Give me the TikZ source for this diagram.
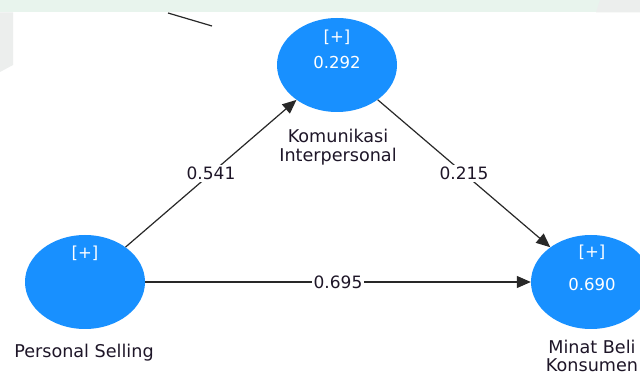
\documentclass[tikz,border=0pt]{standalone}
\usepackage{fontspec}
\setmainfont{DejaVu Sans}
\usetikzlibrary{shapes.geometric,arrows.meta}
\definecolor{lvblue}{RGB}{24,144,255}
\definecolor{stripgreen}{RGB}{232,244,237}
\definecolor{edgegray}{RGB}{236,238,237}
\definecolor{inktext}{RGB}{30,22,40}
\definecolor{linegray}{RGB}{40,40,40}
\tikzset{
  latent/.style={ellipse, fill=lvblue, draw=none, minimum width=120pt, minimum height=94pt, inner sep=0pt},
  intext/.style={text=white, font=\fontsize{16.5}{18}\selectfont, inner sep=0pt},
  lbl/.style={text=inktext, font=\fontsize{17.6}{18.5}\selectfont, align=center, inner sep=0pt},
  conn/.style={draw=linegray, line width=1.2pt, -{Triangle[length=14pt,width=12pt]}},
  coef/.style={fill=white, text=inktext, font=\fontsize{17}{18}\selectfont, inner sep=2pt},
}
\begin{document}
\begin{tikzpicture}[x=1pt,y=-1pt]
\useasboundingbox (0,0) rectangle (640,379);
\clip (0,0) rectangle (640,379);
\fill[white] (0,0) rectangle (640,379);
% header strip and left margin
\fill[stripgreen] (0,0) rectangle (640,12.5);
\fill[edgegray] (0,12.5) -- (13,12.5) -- (13,65) -- (0,72) -- cycle;
\fill[edgegray] (600,0) -- (640,0) -- (640,12.5) -- (596,12.5) -- cycle;
% stray connector entering from above
\coordinate (s1) at (168,13);
\coordinate (s2) at (212,26);
\draw[linegray, line width=1.2pt] (s1) -- (s2);
% latent variables
\node[latent] (ki) at (337,65) {};
\node[latent] (ps) at (85,282) {};
\node[latent] (mbk) at (591,282) {};
\node[intext] (kip) at (337,37) {[+]};
\node[intext] (kiv) at (337,62) {0.292};
\node[intext] (psp) at (85,253) {[+]};
\node[intext] (mbkp) at (592,252) {[+]};
\node[intext] (mbkv) at (592,284) {0.690};
% variable names
\node[lbl] (kil) at (338,147) {Komunikasi\\Interpersonal};
\node[lbl] (psl) at (84,353) {Personal Selling};
\node[lbl] (mbkl) at (592,356) {Minat Beli\\Konsumen};
% paths
\draw[conn] (ps) -- node[coef] (c1) {0.541} (ki);
\draw[conn] (ki) -- node[coef] (c2) {0.215} (mbk);
\draw[conn] (ps) -- node[coef] (c3) {0.695} (mbk);
\end{tikzpicture}
\end{document}
